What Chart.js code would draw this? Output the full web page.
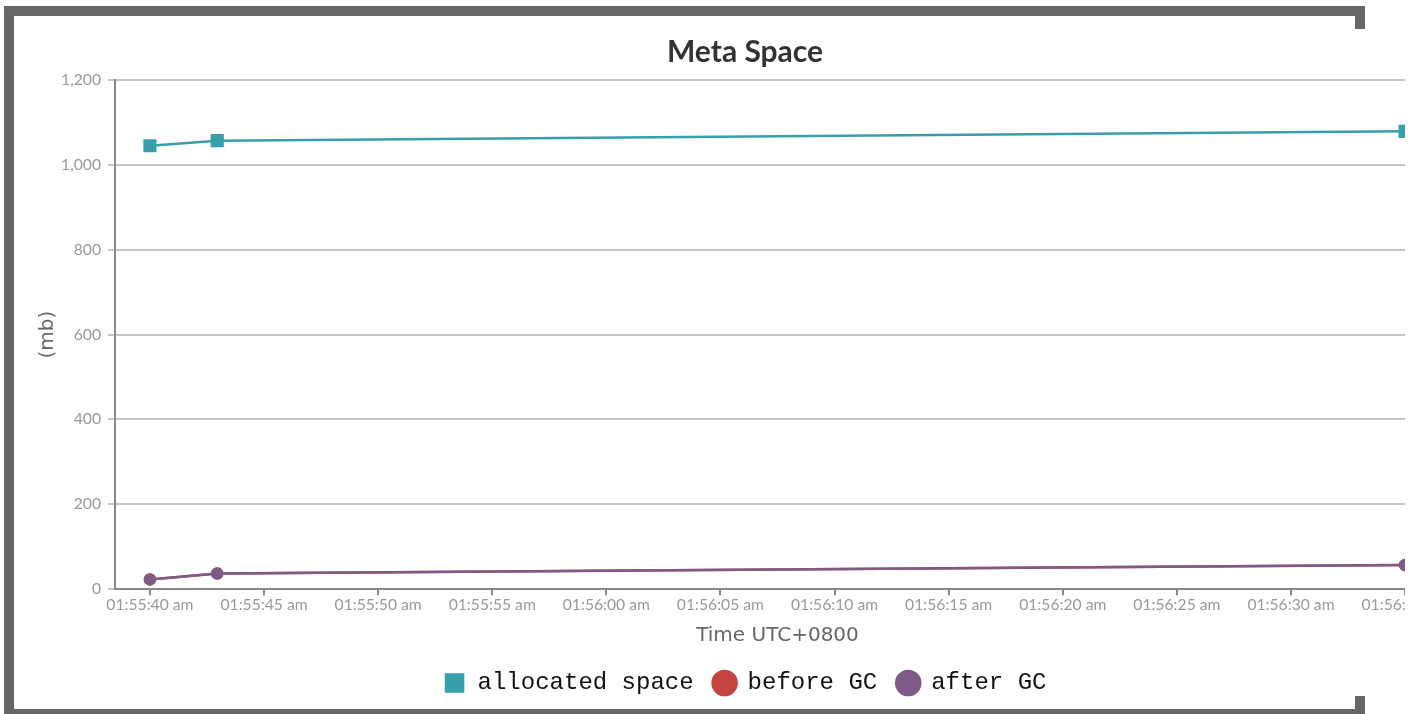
<!DOCTYPE html>
<html>
<head>
<meta charset="utf-8">
<script src="https://cdn.jsdelivr.net/npm/chart.js@4"></script>
<style>
  html, body { margin: 0; padding: 0; background: #fff; width: 1425px; height: 714px; overflow: hidden; }
  .frame { position: absolute; left: 4px; top: 6px; width: 1351px; height: 693px; border: 10px solid #666; border-right: none; }
  .stub { position: absolute; left: 1355px; width: 10px; height: 13px; background: #666; }
  .wrap { position: absolute; left: 14px; top: 16px; width: 1391px; height: 693px; overflow: hidden; }
</style>
</head>
<body>
<div class="frame"></div>
<div class="stub" style="top:16px"></div>
<div class="stub" style="top:696px"></div>
<div class="wrap"><canvas id="metaChart" width="1498" height="693"></canvas></div>
<script>
// Data (times are hh:mm:ss, values in mb)
const pointTimes = ['01:55:40.0', '01:55:42.95', '01:56:35.0'];
const allocatedSpace = [1045, 1057, 1079];
const beforeGC = [23, 37, 57];
const afterGC = [23, 37, 57];

const xTickLabels = ['01:55:40 am', '01:55:45 am', '01:55:50 am', '01:55:55 am', '01:56:00 am', '01:56:05 am',
    '01:56:10 am', '01:56:15 am', '01:56:20 am', '01:56:25 am', '01:56:30 am', '01:56:35 am'];
const xRange = ['01:55:38.47', '01:56:36.53'];
const yTicks = [0, 200, 400, 600, 800, 1000, 1200];

// 'hh:mm:ss(.s)' -> seconds
const toSeconds = (t) => {
    const [h, m, s] = t.replace(/ ?[ap]m$/, '').split(':');
    return (+h) * 3600 + (+m) * 60 + parseFloat(s);
};

const toPoints = (values) => values.map((v, i) => ({ x: toSeconds(pointTimes[i]), y: v }));

const tickFont = { family: 'Lato', size: 15.7 };
const titleFont = { family: 'DejaVu Sans', size: 20 };

const ctx = document.getElementById('metaChart').getContext('2d');
new Chart(ctx, {
    type: 'line',
    data: {
        datasets: [{
            label: 'allocated space',
            data: toPoints(allocatedSpace),
            borderColor: '#379fac',
            backgroundColor: '#379fac',
            pointStyle: 'rect',
            pointRadius: 7.5,
            borderWidth: 2.5,
            order: 1
        }, {
            label: 'before GC',
            data: toPoints(beforeGC),
            borderColor: '#c44540',
            backgroundColor: '#c44540',
            pointStyle: 'circle',
            pointRadius: 5,
            borderWidth: 2.5,
            order: 2
        }, {
            label: 'after GC',
            data: toPoints(afterGC),
            borderColor: '#7e5b87',
            backgroundColor: '#7e5b87',
            pointStyle: 'circle',
            pointRadius: 5,
            borderWidth: 2.5,
            order: 1
        }]
    },
    options: {
        responsive: false,
        animation: false,
        devicePixelRatio: 1,
        layout: { padding: { left: 36, right: 72, top: 0, bottom: 4 } },
        plugins: {
            title: {
                display: true,
                text: 'Meta Space',
                color: '#333',
                font: { family: 'Lato', size: 30, weight: 'bold' },
                padding: { top: 18, bottom: 10 }
            },
            legend: {
                position: 'bottom',
                labels: {
                    usePointStyle: true,
                    boxWidth: 22,
                    boxHeight: 17,
                    padding: 20,
                    color: '#111',
                    font: { family: 'Liberation Mono', size: 24 },
                    sort: (a, b) => a.datasetIndex - b.datasetIndex
                }
            },
            tooltip: { enabled: false }
        },
        scales: {
            x: {
                type: 'linear',
                min: toSeconds(xRange[0]),
                max: toSeconds(xRange[1]),
                afterBuildTicks: (scale) => {
                    scale.ticks = xTickLabels.map(l => ({ value: toSeconds(l) }));
                },
                ticks: {
                    autoSkip: false,
                    maxRotation: 0,
                    padding: 0,
                    color: '#999',
                    font: tickFont,
                    callback: (value, index) => xTickLabels[index]
                },
                grid: {
                    drawOnChartArea: false,
                    tickLength: 6,
                    tickColor: '#888',
                    lineWidth: 2
                },
                border: { color: '#888', width: 2 },
                title: {
                    display: true,
                    text: 'Time UTC+0800',
                    color: '#666',
                    font: titleFont,
                    padding: { top: 10, bottom: 3 }
                }
            },
            y: {
                min: yTicks[0],
                max: yTicks[yTicks.length - 1],
                afterBuildTicks: (scale) => {
                    scale.ticks = yTicks.map(v => ({ value: v }));
                },
                afterFit: (scale) => { scale.width = 65; },
                ticks: {
                    padding: 7,
                    color: '#999',
                    font: tickFont,
                    callback: (value) => value.toLocaleString('en-US')
                },
                grid: {
                    color: '#c4c4c4',
                    tickColor: '#c4c4c4',
                    tickLength: 7,
                    lineWidth: 2
                },
                border: { color: '#888', width: 2 },
                title: {
                    display: true,
                    text: '(mb)',
                    color: '#666',
                    font: titleFont,
                    padding: { top: -14, bottom: 0 }
                }
            }
        }
    }
});
</script>
</body>
</html>
